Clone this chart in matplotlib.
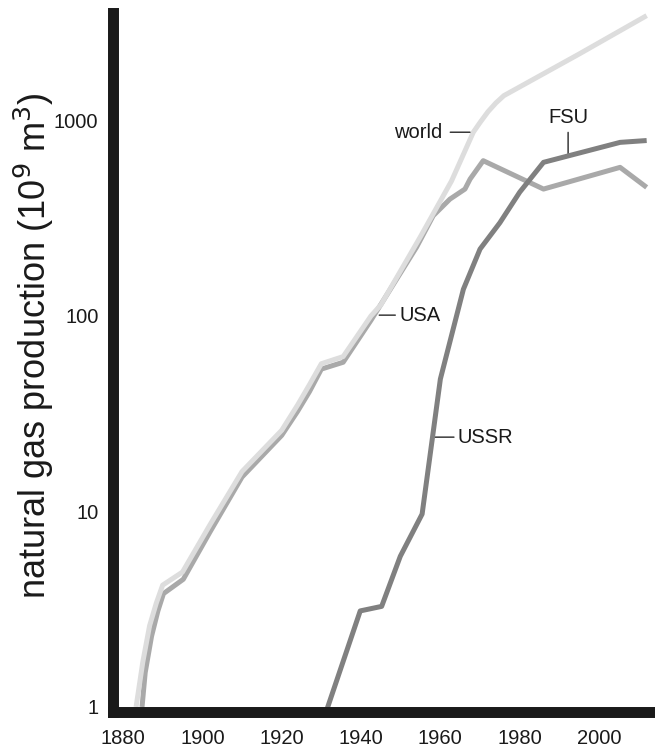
import numpy as np
import matplotlib
matplotlib.use("Agg")
import matplotlib.pyplot as plt

plt.rcParams['font.family'] = ['Liberation Sans', 'DejaVu Sans']

# ---- data ----
world_years = [1883.3, 1885.0, 1886.7, 1888.4, 1890.0, 1895.0, 1902.0, 1910.0, 1920.0,
               1924.0, 1927.0, 1930.0, 1935.5, 1942.5, 1945.0, 1955.0, 1962.8, 1968.3,
               1970.0, 1972.0, 1974.0, 1976.0, 1995.0, 2012.0]
world_vals = [1.0, 1.7, 2.6, 3.4, 4.2, 4.9, 8.6, 16.0, 26.0,
              35.0, 44.5, 57.0, 62.0, 100.0, 114.0, 255.0, 490.0, 871.0,
              977.0, 1109.0, 1230.0, 1340.0, 2190.0, 3440.0]

usa_years = [1884.8, 1885.6, 1887.2, 1888.8, 1890.2, 1895.2, 1902.0, 1910.0, 1920.0,
             1924.0, 1927.0, 1930.0, 1935.5, 1942.5, 1954.0, 1958.2, 1962.4, 1966.2,
             1967.5, 1970.8, 1986.0, 2005.3, 2012.0]
usa_vals = [1.0, 1.5, 2.3, 3.1, 3.8, 4.5, 7.9, 15.0, 24.5,
            32.5, 41.0, 53.5, 58.0, 95.0, 225.0, 326.0, 396.0, 446.0,
            502.0, 623.0, 446.0, 576.0, 455.0]

ussr_years = [1930.0, 1939.8, 1945.2, 1949.9, 1955.4, 1960.0, 1965.8, 1970.0, 1975.0, 1980.0, 1986.0]
ussr_vals = [0.8, 3.1, 3.27, 5.9, 9.7, 47.6, 137.0, 220.0, 300.0, 430.0, 611.0]

fsu_years = [1986.0, 2005.3, 2012.0]
fsu_vals = [611.0, 773.0, 790.0]

x_ticks = [1880, 1900, 1920, 1940, 1960, 1980, 2000]
y_ticks = [1, 10, 100, 1000]
y_ticklabels = ['1', '10', '100', '1000']

# ---- figure ----
fig = plt.figure(figsize=(6.55, 7.47), dpi=100)
ax = fig.add_axes([0.1725, 0.0462, 0.8275, 0.9364])

lw = 3.6
ax.plot(usa_years, usa_vals, color='#a9a9a9', lw=lw, solid_joinstyle='round',
        solid_capstyle='butt', zorder=2)
ax.plot(world_years, world_vals, color='#dddddd', lw=lw, solid_joinstyle='round',
        solid_capstyle='butt', zorder=3)
sov_years = list(ussr_years) + list(fsu_years[1:])
sov_vals = list(ussr_vals) + list(fsu_vals[1:])
ax.plot(sov_years, sov_vals, color='#808080', lw=lw, solid_joinstyle='round',
        solid_capstyle='butt', zorder=4)

ax.set_yscale('log')
ax.set_xlim(1877.48, 2014.1)
ax.set_ylim(0.937, 3548)

ax.set_xticks(x_ticks)
ax.set_xticklabels([str(t) for t in x_ticks])
ax.set_yticks(y_ticks)
ax.set_yticklabels(y_ticklabels)
ax.yaxis.set_minor_locator(matplotlib.ticker.NullLocator())
ax.tick_params(axis='both', length=0, labelsize=14.5, colors='#1a1a1a')
ax.tick_params(axis='y', pad=10.5)
ax.tick_params(axis='x', pad=12)

for s in ['top', 'right']:
    ax.spines[s].set_visible(False)
for s in ['left', 'bottom']:
    ax.spines[s].set_linewidth(7.9)
    ax.spines[s].set_color('#1a1a1a')
    ax.spines[s].set_zorder(6)

ax.set_ylabel('natural gas production (10$^{9}$ m$^{3}$)', fontsize=26, color='#1a1a1a')
ax.yaxis.set_label_coords(-0.106, 0.525)

# ---- series labels ----
tick_kw = dict(arrowstyle='-', color='#3a3a3a', lw=1.1, shrinkA=0, shrinkB=0)
lab_kw = dict(fontsize=14.5, color='#1a1a1a', textcoords='offset pixels')

# world
ax.annotate('', xy=(1968.3, 871), xytext=(-23, 0), textcoords='offset pixels',
            arrowprops=dict(tick_kw, shrinkB=2.4))
ax.annotate('world', xy=(1968.3, 871), xytext=(-31.5, 0), ha='right', va='center', **lab_kw)
# USA
ax.annotate('', xy=(1944.6, 101), xytext=(16, 0), textcoords='offset pixels',
            arrowprops=dict(tick_kw))
ax.annotate('USA', xy=(1944.6, 101), xytext=(20.5, 0), ha='left', va='center', **lab_kw)
# USSR
ax.annotate('', xy=(1958.0, 24), xytext=(21.5, 0), textcoords='offset pixels',
            arrowprops=dict(tick_kw))
ax.annotate('USSR', xy=(1958.0, 24), xytext=(25, 0), ha='left', va='center', **lab_kw)
# FSU
ax.annotate('', xy=(1992.2, 655), xytext=(0, 24), textcoords='offset pixels',
            arrowprops=dict(tick_kw, shrinkB=2.0))
ax.annotate('FSU', xy=(1992.2, 655), xytext=(0, 39), ha='center', va='center', **lab_kw)

fig.savefig('out.png', dpi=100)
